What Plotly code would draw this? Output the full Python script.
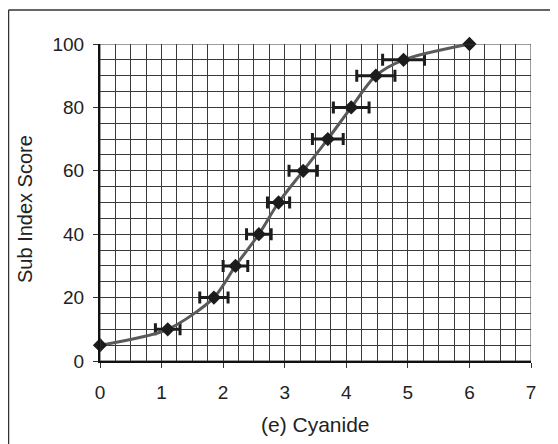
import plotly.graph_objects as go

# Cyanide sub index curve
cyanide = [0, 1.1, 1.85, 2.2, 2.58, 2.9, 3.3, 3.7, 4.08, 4.48, 4.93, 6.0]
score = [5, 10, 20, 30, 40, 50, 60, 70, 80, 90, 95, 100]
err_x = [0, 0.2, 0.23, 0.2, 0.2, 0.18, 0.23, 0.25, 0.29, 0.31, 0.34, 0]

x_ticks = [0, 1, 2, 3, 4, 5, 6, 7]
y_ticks = [0, 20, 40, 60, 80, 100]

# the page body has an 8px margin, so the figure is shrunk by that much
OFF = 8
W, H = 558 - OFF, 444 - OFF
# plot area, in window pixels
L, R, T, B = 100, 531, 44, 361
pw, ph = R - L, B - T


def px_x(p):
    return (p - L) / pw


def px_y(p):
    return (B - p) / ph


fig = go.Figure()

fig.add_trace(go.Scatter(
    x=cyanide, y=score,
    mode='lines+markers',
    line=dict(color='#5a5a5a', width=3, shape='spline', smoothing=0.8),
    marker=dict(symbol='diamond', size=11, color='#1c1c1c'),
    error_x=dict(type='data', array=err_x, visible=True,
                 color='#1c1c1c', thickness=3, width=6),
    showlegend=False,
    cliponaxis=False,
))

fam = 'Liberation Sans, Arial, sans-serif'

fig.update_layout(
    width=W, height=H,
    margin=dict(l=L - OFF, r=W + OFF - R, t=T - OFF, b=H + OFF - B),
    paper_bgcolor='white', plot_bgcolor='white',
    font=dict(family=fam, size=19, color='#222'),
    xaxis=dict(
        range=[0, 7], tickvals=x_ticks, ticks='outside', ticklen=5,
        tickcolor='#333', showline=True, linecolor='#111', linewidth=2,
        showgrid=True, gridcolor='#3a3a3a', gridwidth=1, zeroline=False,
        minor=dict(dtick=0.25, showgrid=True, gridcolor='#3a3a3a', gridwidth=1),
        ticklabelstandoff=8, automargin=False,
    ),
    yaxis=dict(
        range=[0, 100], tickvals=y_ticks, ticks='outside', ticklen=5,
        tickcolor='#333', showline=True, linecolor='#111', linewidth=2,
        showgrid=True, gridcolor='#3a3a3a', gridwidth=1, zeroline=False,
        minor=dict(dtick=5, showgrid=True, gridcolor='#3a3a3a', gridwidth=1),
        ticklabelstandoff=5, automargin=False,
    ),
)

# axis titles
fig.add_annotation(text='(e) Cyanide', xref='paper', yref='paper',
                   x=0.5, y=px_y(424), xanchor='center', yanchor='middle',
                   showarrow=False,
                   font=dict(family=fam, size=21, color='#222'))
fig.add_annotation(text='Sub Index Score', xref='paper', yref='paper',
                   x=px_x(25), y=px_y(209), xanchor='center', yanchor='middle',
                   textangle=-90, showarrow=False,
                   font=dict(family=fam, size=20, color='#222'))

# outer frame (cut off at right and bottom in the reference)
fig.add_shape(type='line', xref='paper', yref='paper',
              x0=px_x(OFF + 0.5), x1=px_x(560), y0=px_y(10), y1=px_y(10),
              line=dict(color='#333', width=1.5))
fig.add_shape(type='line', xref='paper', yref='paper',
              x0=px_x(OFF + 0.5), x1=px_x(OFF + 0.5), y0=px_y(10), y1=px_y(446),
              line=dict(color='#333', width=1.5))

# top and right edges of the grid
fig.add_shape(type='rect', xref='x', yref='y', x0=0, x1=7, y0=0, y1=100,
              line=dict(color='#3a3a3a', width=1))

fig.write_html("out.html")
